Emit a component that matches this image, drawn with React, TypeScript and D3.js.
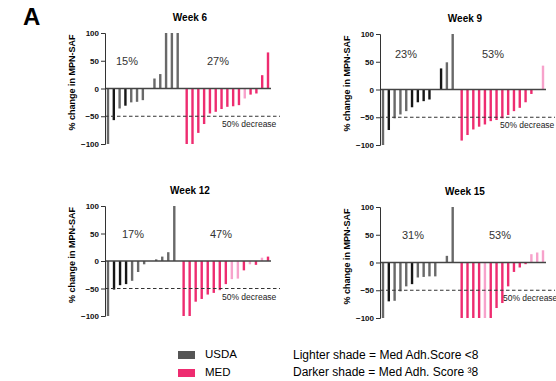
import * as d3 from "d3";
import React, { useRef, useEffect } from "react";

// bar values (% change in MPN-SAF), one entry per participant, sorted as in the figure
const weeks = ["Week 6", "Week 9", "Week 12", "Week 15"];

const usdaWeek6 = [-100, -57, -36, -31, -25, -24, -21, 0, 18, 26, 100, 100, 100];
const usdaShadeWeek6 = ["l", "d", "l", "d", "l", "l", "l", "l", "l", "l", "l", "l", "l"];
const medWeek6 = [-100, -100, -80, -64, -45, -42, -37, -33, -32, -30, -18, -11, -9, 24, 65];
const medShadeWeek6 = ["d", "d", "d", "d", "d", "d", "d", "d", "d", "d", "l", "d", "d", "d", "d"];

const usdaWeek9 = [-100, -73, -52, -45, -39, -32, -23, -21, -18, 0, 38, 49, 100];
const usdaShadeWeek9 = ["l", "d", "l", "l", "l", "d", "d", "d", "d", "l", "d", "l", "l"];
const medWeek9 = [-92, -82, -72, -67, -63, -57, -55, -52, -46, -39, -33, -23, -8, 0, 43];
const medShadeWeek9 = ["d", "d", "d", "d", "d", "d", "d", "d", "d", "d", "d", "d", "d", "d", "l"];

const usdaWeek12 = [-100, -52, -44, -42, -36, -20, -6, 0, 3, 8, 16, 100];
const usdaShadeWeek12 = ["l", "d", "d", "d", "l", "l", "l", "l", "l", "l", "l", "l"];
const medWeek12 = [-100, -100, -74, -69, -61, -58, -53, -42, -33, -32, -17, -6, -7, 6, 8];
const medShadeWeek12 = ["d", "d", "d", "d", "d", "d", "d", "d", "l", "l", "d", "l", "d", "l", "d"];

const usdaWeek15 = [-100, -70, -69, -52, -43, -39, -27, -26, -25, -25, 0, 12, 100];
const usdaShadeWeek15 = ["l", "d", "l", "l", "l", "d", "l", "l", "l", "l", "l", "l", "l"];
const medWeek15 = [-100, -100, -100, -100, -100, -100, -82, -73, -43, -17, -9, -3, 15, 18, 22];
const medShadeWeek15 = ["d", "d", "d", "d", "l", "d", "d", "d", "d", "d", "d", "d", "l", "l", "l"];

const usdaPct = ["15%", "23%", "17%", "31%"];
const medPct = ["27%", "53%", "47%", "53%"];
const yTicks = [100, 50, 0, -50, -100];

const usdaSeries = [usdaWeek6, usdaWeek9, usdaWeek12, usdaWeek15];
const usdaShades = [usdaShadeWeek6, usdaShadeWeek9, usdaShadeWeek12, usdaShadeWeek15];
const medSeries = [medWeek6, medWeek9, medWeek12, medWeek15];
const medShades = [medShadeWeek6, medShadeWeek9, medShadeWeek12, medShadeWeek15];

const colors = {
  usda: { l: "#696969", d: "#161616" },
  med: { d: "#ee2c70", l: "#f7a2cb" },
};

// where each small chart sits on the page
const panels = [
  { ax: 105, top: 33, bottom: 144, pctY: 4.5, uX: 22, mX: 113, decX: 117 },
  { ax: 380, top: 34, bottom: 145, pctY: -3.5, uX: 26, mX: 113, decX: 120 },
  { ax: 105, top: 206, bottom: 316, pctY: 4.5, uX: 28, mX: 116, decX: 117 },
  { ax: 380, top: 207, bottom: 318, pctY: 4.5, uX: 33, mX: 120, decX: 123 },
];

const font = "'Liberation Sans', Arial, Helvetica, sans-serif";

const App = () => {
  const ref = useRef(null);

  useEffect(() => {
    const svg = d3.select(ref.current);
    svg.selectAll("*").remove();

    svg
      .append("text")
      .attr("x", 23)
      .attr("y", 25)
      .attr("font-size", 24)
      .attr("font-weight", "bold")
      .text("A");

    panels.forEach((p, k) => {
      const g = svg.append("g");
      const usda = usdaSeries[k];
      const med = medSeries[k];
      const nU = usda.length;
      const gap = 0.55;

      const items = [
        ...usda.map((v, i) => ({ v, pos: i, c: colors.usda[usdaShades[k][i]] })),
        ...med.map((v, i) => ({ v, pos: nU + gap + i, c: colors.med[medShades[k][i]] })),
      ];

      const x = d3
        .scaleLinear()
        .domain([0, nU + gap + med.length - 1])
        .range([p.ax + 3, p.ax + 163]);
      const y = d3.scaleLinear().domain([-100, 100]).range([p.bottom, p.top]);
      const bw = 2.4;

      g.selectAll("rect")
        .data(items)
        .join("rect")
        .attr("x", (d) => x(d.pos) - bw / 2)
        .attr("y", (d) => y(Math.max(d.v, 0)))
        .attr("width", bw)
        .attr("height", (d) => Math.abs(y(d.v) - y(0)))
        .attr("fill", (d) => d.c);

      // baseline and 50% decrease reference
      g.append("line")
        .attr("x1", p.ax)
        .attr("x2", p.ax + 166)
        .attr("y1", y(0))
        .attr("y2", y(0))
        .attr("stroke", "#444")
        .attr("stroke-width", 1.3);

      g.append("line")
        .attr("x1", p.ax)
        .attr("x2", p.ax + 175)
        .attr("y1", y(-50))
        .attr("y2", y(-50))
        .attr("stroke", "#333")
        .attr("stroke-width", 1)
        .attr("stroke-dasharray", "3.5,2.5");

      const axis = g
        .append("g")
        .attr("transform", `translate(${p.ax},0)`)
        .call(d3.axisLeft(y).tickValues(yTicks).tickSize(4).tickSizeOuter(4));
      axis.select(".domain").attr("stroke", "#333");
      axis.selectAll("line").attr("stroke", "#333");
      axis
        .selectAll("text")
        .attr("font-family", font)
        .attr("font-size", 8)
        .attr("font-weight", "bold")
        .attr("fill", "#111")
        .attr("x", -6);

      g.append("text")
        .attr("transform", `translate(${p.ax - 30},${y(0) - 6}) rotate(-90)`)
        .attr("text-anchor", "middle")
        .attr("font-family", font)
        .attr("font-size", 9)
        .attr("font-weight", "bold")
        .text("% change in MPN-SAF");

      g.append("text")
        .attr("x", p.ax + 85)
        .attr("y", p.top - 12)
        .attr("text-anchor", "middle")
        .attr("font-family", font)
        .attr("font-size", 10)
        .attr("font-weight", "bold")
        .text(weeks[k]);

      g.append("text")
        .attr("x", p.ax + p.uX)
        .attr("y", y(50) + p.pctY)
        .attr("text-anchor", "middle")
        .attr("font-family", font)
        .attr("font-size", 11)
        .attr("fill", "#333")
        .text(usdaPct[k]);

      g.append("text")
        .attr("x", p.ax + p.mX)
        .attr("y", y(50) + p.pctY)
        .attr("text-anchor", "middle")
        .attr("font-family", font)
        .attr("font-size", 11)
        .attr("fill", "#333")
        .text(medPct[k]);

      g.append("text")
        .attr("x", p.ax + p.decX)
        .attr("y", y(-50) + 11)
        .attr("font-family", font)
        .attr("font-size", 8.5)
        .attr("fill", "#222")
        .text("50% decrease");
    });

    // legend
    const leg = svg.append("g").attr("font-family", font).attr("font-size", 11.5);
    leg.append("rect").attr("x", 178).attr("y", 351).attr("width", 17).attr("height", 8).attr("fill", "#555");
    leg.append("rect").attr("x", 178).attr("y", 369).attr("width", 17).attr("height", 8).attr("fill", colors.med.d);
    leg.append("text").attr("x", 205).attr("y", 358).text("USDA");
    leg.append("text").attr("x", 205).attr("y", 376).text("MED");
    leg.append("text").attr("x", 293).attr("y", 359).attr("font-size", 12).text("Lighter shade = Med Adh.Score <8");
    leg.append("text").attr("x", 293).attr("y", 376).attr("font-size", 12).text("Darker shade = Med Adh. Score ³8");
  }, []);

  return (
    <svg
      ref={ref}
      width={556}
      height={381}
      style={{ position: "absolute", left: 0, top: 0, background: "#fff", fontFamily: font }}
    ></svg>
  );
};

export default App;
